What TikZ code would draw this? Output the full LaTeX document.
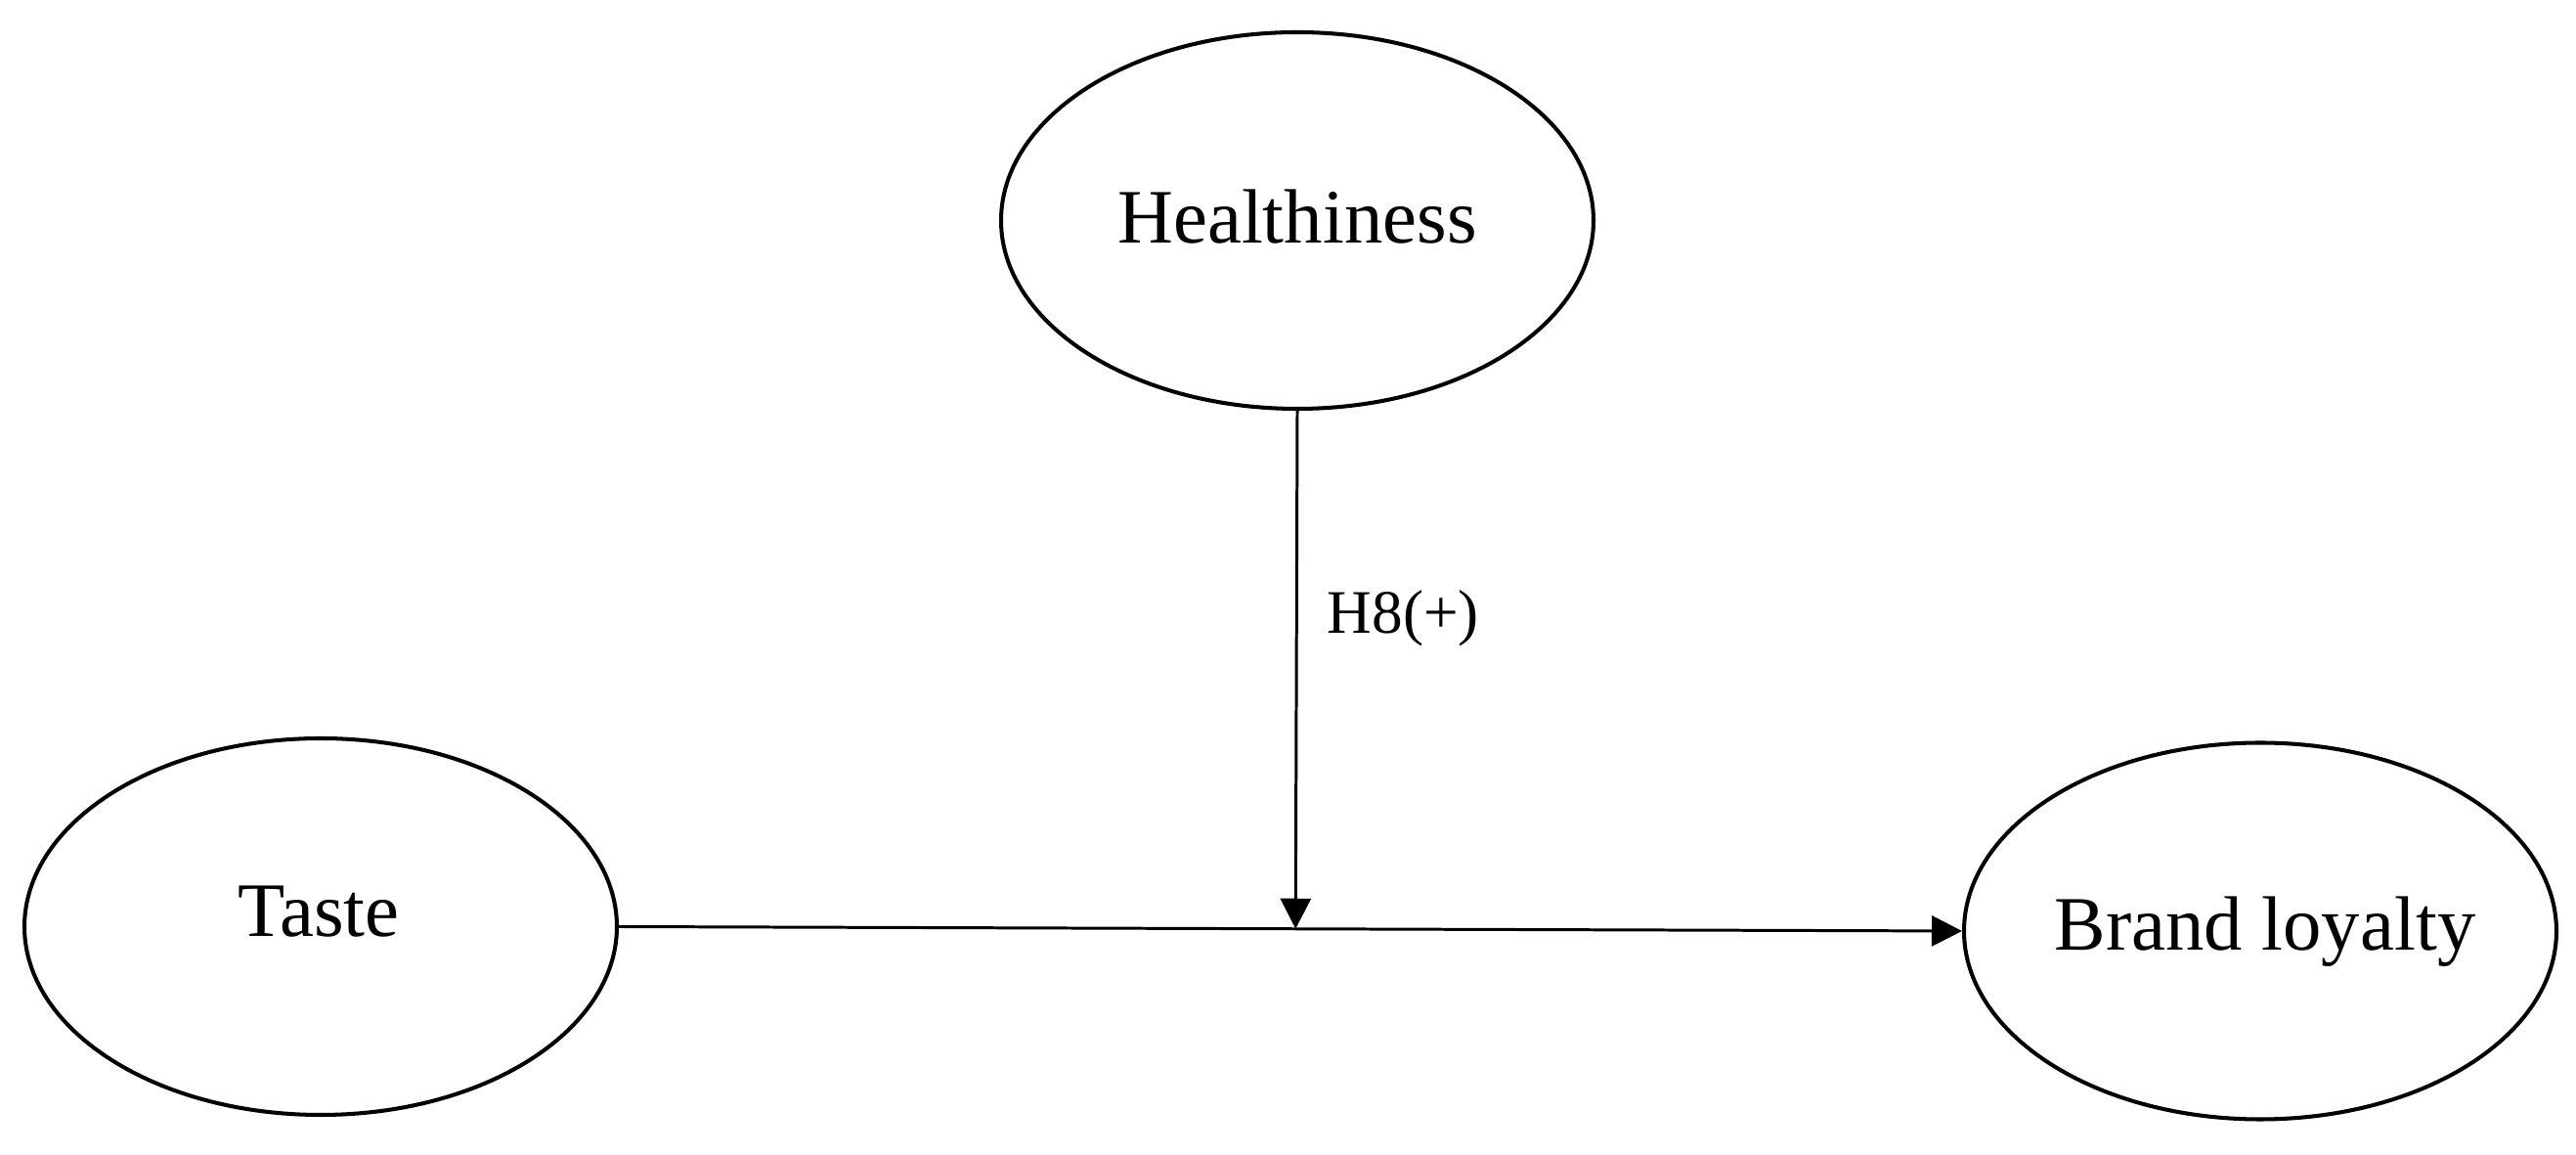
\documentclass[tikz,border=0pt]{standalone}
\usepackage{fontspec}
\setmainfont{Liberation Serif}
\usetikzlibrary{arrows.meta,calc,shapes.geometric}
\begin{document}
\begin{tikzpicture}[
  construct/.style={draw=black, line width=1.15pt, ellipse, inner sep=0pt,
    minimum width=6.06cm, minimum height=3.85cm},
  ctext/.style={anchor=base, inner sep=0pt, font=\fontsize{22.4}{26}\selectfont},
  conn/.style={draw=black, line width=0.85pt,
    -{Triangle[length=0.31cm,width=0.31cm]}},
  hlabel/.style={anchor=base west, inner sep=0pt, font=\fontsize{18}{22}\selectfont}
]
\useasboundingbox[fill=white] (0,0) rectangle (26.35,11.81);

\node[construct] (H) at (13.27,9.555) {};
\node[construct] (T) at (3.28,2.335) {};
\node[construct] (B) at (23.12,2.29) {};

\node[ctext] (Ht) at ($(H.center)+(0,-0.23)$) {Healthiness};
\node[ctext] (Tt) at ($(T.center)+(-0.02,-0.10)$) {Taste};
\node[ctext] (Bt) at ($(B.center)+(0.05,-0.20)$) {Brand loyalty};

\draw[conn] (T.east) -- (B.west);
\coordinate (M) at ($(T.east)!(H.south)!(B.west)$);
\draw[conn] (H.south) -- (M);

\node[hlabel] (L) at (13.57,5.33) {H8(+)};
\end{tikzpicture}
\end{document}
